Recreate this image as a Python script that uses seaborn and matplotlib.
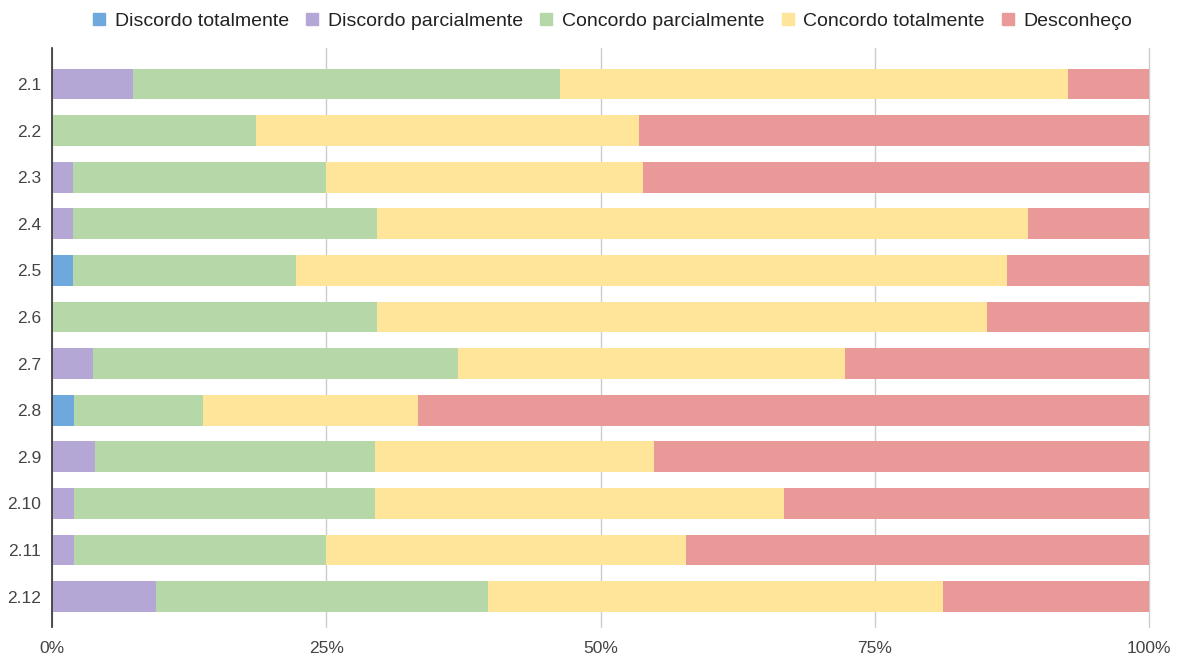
import numpy as np
import pandas as pd
import matplotlib
matplotlib.use("Agg")
import matplotlib.pyplot as plt
from matplotlib.lines import Line2D
import seaborn as sns

# Data (percent of answers per item)
questions = ['2.1', '2.2', '2.3', '2.4', '2.5', '2.6', '2.7', '2.8', '2.9', '2.10', '2.11', '2.12']
categories = ['Discordo totalmente', 'Discordo parcialmente', 'Concordo parcialmente',
              'Concordo totalmente', 'Desconheço']
discordo_total = [0.0, 0.0, 0.0, 0.0, 1.9, 0.0, 0.0, 2.0, 0.0, 0.0, 0.0, 0.0]
discordo_parcial = [7.4, 0.0, 1.9, 1.9, 0.0, 0.0, 3.7, 0.0, 3.9, 2.0, 2.0, 9.5]
concordo_parcial = [38.9, 18.6, 23.1, 27.7, 20.3, 29.6, 33.3, 11.8, 25.5, 27.4, 23.0, 30.2]
concordo_total = [46.3, 34.9, 28.9, 59.4, 64.9, 55.6, 35.3, 19.6, 25.5, 37.3, 32.8, 41.5]
desconheco = [7.4, 46.5, 46.1, 11.0, 12.9, 14.8, 27.7, 66.6, 45.1, 33.3, 42.2, 18.8]

colors = ['#6fa8dc', '#b4a7d6', '#b6d7a8', '#ffe599', '#ea9999']

df = pd.DataFrame({
    'questao': questions,
    categories[0]: discordo_total,
    categories[1]: discordo_parcial,
    categories[2]: concordo_parcial,
    categories[3]: concordo_total,
    categories[4]: desconheco,
})
# normalise each row to 100 and build cumulative sums for stacking
vals = df[categories]
vals = vals.div(vals.sum(axis=1), axis=0) * 100
cum = vals.cumsum(axis=1)
cum['questao'] = df['questao']

sns.set_style("white")
plt.rcParams['font.family'] = ['Liberation Sans', 'DejaVu Sans']

fig = plt.figure(figsize=(11.84, 6.6), dpi=100)
ax = fig.add_axes([52 / 1184, 33 / 660, 1097 / 1184, 579 / 660])

# draw from the longest cumulative bar down so each segment shows
for cat, col in reversed(list(zip(categories, colors))):
    sns.barplot(data=cum, y='questao', x=cat, orient='h', color=col,
                width=0.66, linewidth=0, saturation=1, ax=ax, order=questions)

ax.set_xlim(0, 100)
ax.set_ylim(11.65, -0.77)
ax.set_xticks([0, 25, 50, 75, 100])
ax.set_xticklabels(['0%', '25%', '50%', '75%', '100%'])
ax.grid(axis='x', color='#cccccc', linewidth=1)
for gl in ax.get_xgridlines():
    gl.set_clip_on(False)
ax.set_axisbelow(True)
ax.set_xlabel('')
ax.set_ylabel('')
for s in ['top', 'right', 'bottom']:
    ax.spines[s].set_visible(False)
ax.spines['left'].set_color('#333333')
ax.spines['left'].set_linewidth(1.2)
ax.tick_params(axis='both', length=0, labelsize=12.5, colors='#444444', pad=8)
ax.tick_params(axis='x', pad=10)

handles = [Line2D([0], [0], marker='s', linestyle='', markersize=9,
                  markerfacecolor=c, markeredgecolor=c) for c in colors]
fig.legend(handles, categories, loc='upper center', bbox_to_anchor=(0.517, 1.008),
           ncol=5, frameon=False, fontsize=14, handlelength=0.8,
           handletextpad=0.4, columnspacing=0.8, labelcolor='#222222')

fig.savefig('out.png', dpi=100)
